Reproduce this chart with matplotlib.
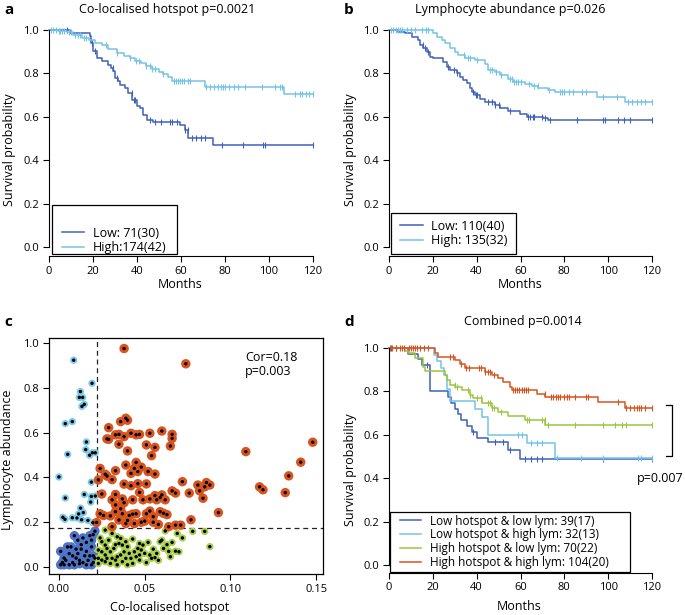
import numpy as np
import matplotlib
matplotlib.use('Agg')
import matplotlib.pyplot as plt
from matplotlib.patches import Rectangle

plt.rcParams['font.family'] = ['Open Sans', 'DejaVu Sans']

DARK = '#3f62b8'
LIGHT = '#74c3e6'
GREEN = '#9bc53d'
ORANGE = '#d9531e'

# ---- panel a: co-localised hotspot
a_low_t = [0, 9.5, 18.6, 19.3, 20.0, 21.7, 23.9, 27.0, 28.3, 29.2, 30.0, 31.2, 32.3, 34.5, 36.0, 37.6,
           40.0, 41.4, 42.9, 44.4, 47.4, 59.5, 61.8, 63.3, 74.5]
a_low_s = [1.0, 0.986, 0.969, 0.94, 0.90, 0.872, 0.858, 0.84, 0.825, 0.809, 0.778, 0.763, 0.748, 0.732,
           0.709, 0.679, 0.651, 0.641, 0.61, 0.587, 0.578, 0.56, 0.541, 0.503, 0.472]
a_low_c = [8, 19.4, 21, 29, 31, 37.5, 38.5, 39, 46, 48, 51, 55, 56, 58, 62, 63, 65, 67, 69, 71,
           78.5, 88, 97.3, 98, 120]
a_high_t = [0, 4, 8, 11, 15, 18, 21, 24, 27, 31, 34, 37, 39, 42, 44, 47, 50, 52, 54, 56, 71, 107]
a_high_s = [1.0, 0.994, 0.988, 0.976, 0.964, 0.952, 0.94, 0.928, 0.91, 0.892, 0.88, 0.868, 0.856,
            0.845, 0.833, 0.82, 0.807, 0.795, 0.783, 0.766, 0.735, 0.705]
a_high_c = [1, 2, 3, 4.5, 5, 6, 7, 9, 10, 12, 13, 14, 16, 17, 26, 31, 37, 39.5, 41, 44, 46, 47, 48,
            52, 57, 57.5, 58.5, 59.5, 60.5, 61.5, 63, 64, 71.5, 73, 75, 77, 78, 79, 80, 82, 84, 86,
            89, 97, 102.7, 105, 106, 112, 114, 115, 117, 118, 120]

# ---- panel b: lymphocyte abundance
b_low_t = [0, 4.3, 7.3, 10.3, 13.4, 14.1, 15.7, 17.2, 18.7, 20.2, 24.8, 26.3, 27.8, 30.9, 32.4,
           33.9, 35.4, 37.0, 37.7, 39.2, 41.5, 43.8, 48.4, 50.6, 54.4, 59.8, 62.8, 70.4, 72.7]
b_low_s = [1.0, 0.991, 0.983, 0.968, 0.953, 0.93, 0.914, 0.899, 0.876, 0.869, 0.85, 0.83, 0.815,
           0.80, 0.784, 0.769, 0.754, 0.731, 0.716, 0.70, 0.682, 0.67, 0.654, 0.642, 0.627, 0.612,
           0.60, 0.593, 0.583]
b_low_c = [15.5, 16.5, 18, 27, 29.5, 31, 38.5, 39.5, 40, 45, 47, 48.5, 50, 55, 63.5, 64.5, 65.5,
           66, 70, 71, 73.5, 85.6, 97.8, 98.6, 104.6, 107.4, 110, 120]
b_high_t = [0, 20.2, 21.7, 24.0, 25.5, 27.8, 30.1, 31.6, 34.7, 39.2, 43.8, 45.3, 48.4, 50.6, 54.4,
            56.7, 62.0, 65.1, 68.1, 72.7, 75.7, 94.8, 107.7]
b_high_s = [1.0, 0.983, 0.968, 0.953, 0.937, 0.914, 0.899, 0.884, 0.872, 0.861, 0.841, 0.815,
            0.804, 0.792, 0.774, 0.761, 0.749, 0.739, 0.731, 0.723, 0.713, 0.693, 0.67]
b_high_c = [1, 2, 3, 4, 5, 6, 8, 10, 12, 15, 17, 18, 34, 36, 37, 40, 46, 47, 49, 51, 55, 56, 57,
            58, 59, 60, 64, 66, 68, 73, 78, 79, 80, 82, 84, 88, 90, 97.8, 104, 109, 111, 113,
            115, 117, 120]

# ---- panel c: scatter (hotspot, lymphocyte)
c_ll_x = [0.001, 0.003, 0.006, 0.009, 0.016, 0.019, 0.020, 0.001, 0.003, 0.004, 0.005, 0.007,
          0.008, 0.010, 0.011, 0.012, 0.013, 0.014, 0.015, 0.016, 0.017, 0.018, 0.019, 0.020,
          0.021, 0.009, 0.011, 0.013, 0.018, 0.020, 0.019, 0.014, 0.016, 0.006, 0.008, 0.012,
          0.002, 0.021, 0.010]
c_ll_y = [0.01, 0.01, 0.01, 0.01, 0.01, 0.01, 0.02, 0.07, 0.04, 0.03, 0.09, 0.09, 0.05, 0.04,
          0.06, 0.03, 0.08, 0.02, 0.05, 0.07, 0.03, 0.05, 0.09, 0.05, 0.04, 0.14, 0.12, 0.10,
          0.14, 0.145, 0.12, 0.13, 0.11, 0.06, 0.02, 0.015, 0.02, 0.16, 0.08]
c_lh_x = [0.0086, 0.0193, 0.0125, 0.0119, 0.0138, 0.0134, 0.0148, 0.0037, 0.0078, 0.0051, 0.016,
          0.0156, 0.0179, 0.0195, 0.0212, 0.0, 0.0189, 0.0037, 0.0148, 0.0189, 0.0212, 0.0185,
          0.0023, 0.0035, 0.0078, 0.0105, 0.0126, 0.0142, 0.0115, 0.0132, 0.0169, 0.0198]
c_lh_y = [0.923, 0.82, 0.783, 0.757, 0.757, 0.717, 0.726, 0.64, 0.649, 0.503, 0.558, 0.524,
          0.499, 0.51, 0.51, 0.402, 0.379, 0.308, 0.324, 0.315, 0.317, 0.29, 0.222, 0.213, 0.22,
          0.219, 0.263, 0.243, 0.237, 0.211, 0.208, 0.198]
c_hl_x = [0.027, 0.025, 0.027, 0.028, 0.023, 0.025, 0.027, 0.023, 0.025, 0.028, 0.031, 0.033,
          0.030, 0.032, 0.034, 0.036, 0.035, 0.037, 0.039, 0.040, 0.038, 0.041, 0.036, 0.034,
          0.039, 0.042, 0.044, 0.046, 0.047, 0.049, 0.048, 0.047, 0.045, 0.050, 0.054, 0.057,
          0.059, 0.061, 0.062, 0.065, 0.068, 0.070, 0.069, 0.078, 0.085, 0.088, 0.023, 0.027,
          0.030, 0.037, 0.043, 0.047, 0.053, 0.056, 0.060, 0.024, 0.029, 0.031, 0.033, 0.043,
          0.052, 0.055, 0.063, 0.072, 0.040, 0.034, 0.058, 0.066, 0.051, 0.064]
c_hl_y = [0.165, 0.113, 0.098, 0.083, 0.076, 0.068, 0.054, 0.039, 0.031, 0.039, 0.039, 0.031,
          0.068, 0.083, 0.135, 0.128, 0.105, 0.098, 0.113, 0.091, 0.068, 0.061, 0.054, 0.046,
          0.039, 0.039, 0.068, 0.083, 0.105, 0.098, 0.076, 0.054, 0.046, 0.061, 0.039, 0.061,
          0.113, 0.083, 0.161, 0.046, 0.071, 0.068, 0.150, 0.159, 0.159, 0.091, 0.016, 0.024,
          0.016, 0.024, 0.016, 0.031, 0.054, 0.042, 0.120, 0.13, 0.12, 0.15, 0.10, 0.125, 0.11,
          0.08, 0.10, 0.13, 0.01, 0.01, 0.03, 0.11, 0.02, 0.07]
c_hh_x = [0.039, 0.040, 0.036, 0.029, 0.035, 0.038, 0.042, 0.047, 0.053, 0.060, 0.066, 0.066,
          0.028, 0.035, 0.040, 0.051, 0.056, 0.065, 0.054, 0.024, 0.027, 0.028, 0.023, 0.033,
          0.039, 0.045, 0.044, 0.048, 0.042, 0.046, 0.052, 0.056, 0.025, 0.033, 0.037, 0.038,
          0.042, 0.046, 0.047, 0.051, 0.053, 0.056, 0.059, 0.060, 0.066, 0.068, 0.072, 0.076,
          0.081, 0.082, 0.084, 0.086, 0.088, 0.085, 0.093, 0.033, 0.033, 0.024, 0.030, 0.037,
          0.040, 0.043, 0.045, 0.044, 0.050, 0.051, 0.055, 0.059, 0.058, 0.063, 0.068, 0.071,
          0.077, 0.022, 0.031, 0.039, 0.038, 0.074, 0.148, 0.109, 0.141, 0.134, 0.117, 0.119,
          0.132, 0.029, 0.031, 0.036, 0.041, 0.043, 0.048, 0.053, 0.057, 0.062, 0.035, 0.026,
          0.045, 0.033, 0.049, 0.064, 0.038, 0.031, 0.055, 0.061]
c_hh_y = [0.664, 0.655, 0.649, 0.622, 0.592, 0.582, 0.597, 0.592, 0.597, 0.607, 0.592, 0.574,
          0.572, 0.548, 0.518, 0.545, 0.534, 0.540, 0.497, 0.440, 0.414, 0.406, 0.389, 0.430,
          0.455, 0.467, 0.440, 0.446, 0.418, 0.426, 0.426, 0.415, 0.326, 0.324, 0.304, 0.287,
          0.363, 0.372, 0.333, 0.371, 0.304, 0.319, 0.310, 0.322, 0.340, 0.330, 0.381, 0.330,
          0.366, 0.340, 0.307, 0.377, 0.366, 0.358, 0.243, 0.277, 0.247, 0.238, 0.228, 0.238,
          0.208, 0.236, 0.238, 0.194, 0.205, 0.238, 0.225, 0.247, 0.190, 0.234, 0.187, 0.187,
          0.211, 0.199, 0.180, 0.194, 0.975, 0.907, 0.557, 0.515, 0.468, 0.407, 0.358, 0.345,
          0.332, 0.57, 0.30, 0.26, 0.23, 0.30, 0.20, 0.25, 0.30, 0.30, 0.21, 0.23, 0.59, 0.59,
          0.30, 0.18, 0.37, 0.39, 0.20, 0.24]
hot_cut = 0.022
lym_cut = 0.173

# ---- panel d: combined
d_ll_t = [0, 8.8, 13.4, 14.9, 18.7, 27.0, 28.5, 30.0, 31.5, 33.0, 35.4, 37.7, 40.0, 45.3, 54.4, 59.8]
d_ll_s = [1.0, 0.974, 0.948, 0.92, 0.80, 0.774, 0.747, 0.72, 0.694, 0.667, 0.64, 0.613, 0.587,
          0.568, 0.53, 0.487]
d_ll_c = [1, 3, 17.5, 38.5, 48.5, 52, 55, 62, 65, 67.4, 69.7, 97.8, 120]
d_lh_t = [0, 20.5, 22.0, 23.5, 25.0, 26.5, 28.0, 39.2, 42.3, 45.3, 62.8, 75.7]
d_lh_s = [1.0, 0.969, 0.938, 0.906, 0.875, 0.813, 0.755, 0.72, 0.68, 0.60, 0.56, 0.495]
d_lh_c = [59, 60.5, 65, 67.4, 69.7, 76.5, 87.7, 97.8, 113.8, 115, 120]
d_hl_t = [0, 7.3, 8.8, 11.9, 15.7, 16.4, 25.5, 26.3, 27.8, 30.1, 33.2, 36.9, 38.5, 42.3, 46.8,
          49.9, 54.4, 62.1, 71.2]
d_hl_s = [1.0, 0.986, 0.975, 0.952, 0.914, 0.896, 0.876, 0.853, 0.829, 0.822, 0.806, 0.783,
          0.768, 0.745, 0.722, 0.707, 0.687, 0.668, 0.645]
d_hl_c = [30, 31, 36, 37, 40, 42, 45, 46, 47, 48, 51, 63, 64, 70, 71, 72.5, 85, 97.5, 103,
          106.5, 108, 120]
d_hh_t = [0, 21.0, 22.5, 30.1, 32.4, 34.7, 43.8, 46.8, 49.9, 52.2, 55.2, 56.0, 67.4, 71.2, 95.5, 107.7]
d_hh_s = [1.0, 0.975, 0.957, 0.945, 0.926, 0.906, 0.89, 0.876, 0.86, 0.845, 0.822, 0.806, 0.788,
          0.773, 0.753, 0.725]
d_hh_c = [0.5, 1.5, 3, 5, 6, 7, 9, 10, 11, 12, 13, 14, 16, 18, 28, 29, 33, 35, 36.5, 41, 42, 44,
          45, 46, 48, 56.5, 57.5, 58.5, 59.5, 60.5, 61.5, 62.5, 63.5, 71, 74, 75, 76, 77, 78, 80,
          81, 82, 85, 90, 91, 104.5, 108, 110, 112, 113, 114, 115, 117, 120]


def km(ax, t, s, cens, color, label):
    t = np.asarray(t)
    s = np.asarray(s)
    ax.step(np.append(t, 120), np.append(s, s[-1]), where='post', color=color, lw=1.1,
            label=label, clip_on=False)
    cens = np.asarray(cens)
    idx = np.searchsorted(t, cens, side='right') - 1
    ax.plot(cens, s[idx], ls='none', marker='|', ms=5, mew=0.8, color=color, clip_on=False)


def km_axes(ax):
    ax.set_xlim(0, 120)
    ax.set_ylim(-0.04, 1.04)
    ax.spines['top'].set_visible(False)
    ax.spines['right'].set_visible(False)
    ax.spines['left'].set_bounds(0, 1)
    ax.spines['bottom'].set_bounds(0, 120)
    ax.set_xticks(range(0, 121, 20))
    ax.set_yticks([0, 0.2, 0.4, 0.6, 0.8, 1.0])
    ax.set_yticklabels(['0.0', '0.2', '0.4', '0.6', '0.8', '1.0'])
    ax.tick_params(direction='out', length=4, labelsize=8, pad=3)


def km_legend(ax, fs, anchor, rect, spacing=0.15):
    lg = ax.legend(loc='center left', bbox_to_anchor=anchor, frameon=False, fontsize=fs,
                   handlelength=1.8, borderpad=0, labelspacing=spacing, handletextpad=0.7,
                   borderaxespad=0)
    ax.add_patch(Rectangle(rect[:2], rect[2], rect[3], transform=ax.transAxes, fill=False,
                           edgecolor='black', lw=0.9, clip_on=False))
    return lg


fig = plt.figure(figsize=(6.85, 6.15), dpi=100)
W, H = 685, 615


def box(l, t, r, b):
    return [l / W, 1 - b / H, (r - l) / W, (b - t) / H]


# a
ax = fig.add_axes(box(49, 21, 313, 256))
km(ax, a_low_t, a_low_s, a_low_c, DARK, 'Low: 71(30)')
km(ax, a_high_t, a_high_s, a_high_c, LIGHT, 'High:174(42)')
km_axes(ax)
km_legend(ax, 9, (0.048, 0.066), (0.011, 0.0085, 0.474, 0.209))
fig.text(167 / W, 1 - 9 / H, 'Co-localised hotspot p=0.0021', ha='center', va='center', fontsize=9)
fig.text(180 / W, 1 - 284 / H, 'Months', ha='center', va='center', fontsize=9)
fig.text(10 / W, 1 - 150 / H, 'Survival probability', ha='center', va='center', rotation=90, fontsize=9)
fig.text(4 / W, 1 - 10 / H, 'a', ha='left', va='center', fontsize=11, fontweight='bold')

# b
ax = fig.add_axes(box(389, 21, 652, 256))
km(ax, b_low_t, b_low_s, b_low_c, DARK, 'Low: 110(40)')
km(ax, b_high_t, b_high_s, b_high_c, LIGHT, 'High: 135(32)')
km_axes(ax)
km_legend(ax, 9, (0.042, 0.096), (0.0065, 0.0085, 0.477, 0.175))
fig.text(510 / W, 1 - 9 / H, 'Lymphocyte abundance p=0.026', ha='center', va='center', fontsize=9)
fig.text(520 / W, 1 - 284 / H, 'Months', ha='center', va='center', fontsize=9)
fig.text(350 / W, 1 - 150 / H, 'Survival probability', ha='center', va='center', rotation=90, fontsize=9)
fig.text(344 / W, 1 - 10 / H, 'b', ha='left', va='center', fontsize=11, fontweight='bold')

# c
ax = fig.add_axes(box(49, 338, 323, 574))
groups = [(c_ll_x, c_ll_y, '#4d74c9', 46), (c_lh_x, c_lh_y, '#7fcaea', 28),
          (c_hl_x, c_hl_y, '#a9d04a', 28), (c_hh_x, c_hh_y, ORANGE, 46)]
for gx, gy, col, sz in groups:
    ax.scatter(gx, gy, s=sz, color=col, edgecolors='none', zorder=2)
for gx, gy, col, sz in groups:
    ax.scatter(gx, gy, s=6, color='black', edgecolors='none', zorder=3)
ax.axvline(hot_cut, ls=(0, (4, 3)), color='#222222', lw=0.9, zorder=1)
ax.axhline(lym_cut, ls=(0, (4, 3)), color='#222222', lw=0.9, zorder=1)
ax.set_xlim(-0.0058, 0.154)
ax.set_ylim(-0.031, 1.022)
ax.set_xticks([0, 0.05, 0.10, 0.15])
ax.set_xticklabels(['0.00', '0.05', '0.10', '0.15'])
ax.set_yticks([0, 0.2, 0.4, 0.6, 0.8, 1.0])
ax.set_yticklabels(['0.0', '0.2', '0.4', '0.6', '0.8', '1.0'])
ax.tick_params(direction='out', length=4, labelsize=8, pad=3)
for sp in ax.spines.values():
    sp.set_linewidth(0.9)
ax.text(0.1085, 0.965, 'Cor=0.18\np=0.003', ha='left', va='top', fontsize=9, linespacing=1.1)
fig.text(170 / W, 1 - 607 / H, 'Co-localised hotspot', ha='center', va='center', fontsize=9)
fig.text(8 / W, 1 - 460 / H, 'Lymphocyte abundance', ha='center', va='center', rotation=90, fontsize=9)
fig.text(4 / W, 1 - 322 / H, 'c', ha='left', va='center', fontsize=11, fontweight='bold')

# d
ax = fig.add_axes(box(389, 340.4, 652, 572.6))
km(ax, d_ll_t, d_ll_s, d_ll_c, DARK, 'Low hotspot & low lym: 39(17)')
km(ax, d_lh_t, d_lh_s, d_lh_c, LIGHT, 'Low hotspot & high lym: 32(13)')
km(ax, d_hl_t, d_hl_s, d_hl_c, GREEN, 'High hotspot & low lym: 70(22)')
km(ax, d_hh_t, d_hh_s, d_hh_c, ORANGE, 'High hotspot & high lym: 104(20)')
km_axes(ax)
ax.set_ylim(-0.035, 1.035)
km_legend(ax, 8.5, (0.042, 0.132), (0.004, 0.0026, 0.912, 0.258), spacing=0.08)
ax.plot([126.5, 129, 129, 126.5], [0.737, 0.737, 0.502, 0.502], color='black', lw=0.9, clip_on=False)
ax.text(134.5, 0.40, 'p=0.007', ha='right', va='center', fontsize=9, clip_on=False)
fig.text(523 / W, 1 - 322 / H, 'Combined p=0.0014', ha='center', va='center', fontsize=9)
fig.text(519 / W, 1 - 607 / H, 'Months', ha='center', va='center', fontsize=9)
fig.text(350 / W, 1 - 470 / H, 'Survival probability', ha='center', va='center', rotation=90, fontsize=9)
fig.text(344 / W, 1 - 322 / H, 'd', ha='left', va='center', fontsize=11, fontweight='bold')

fig.savefig('out.png', dpi=100)
